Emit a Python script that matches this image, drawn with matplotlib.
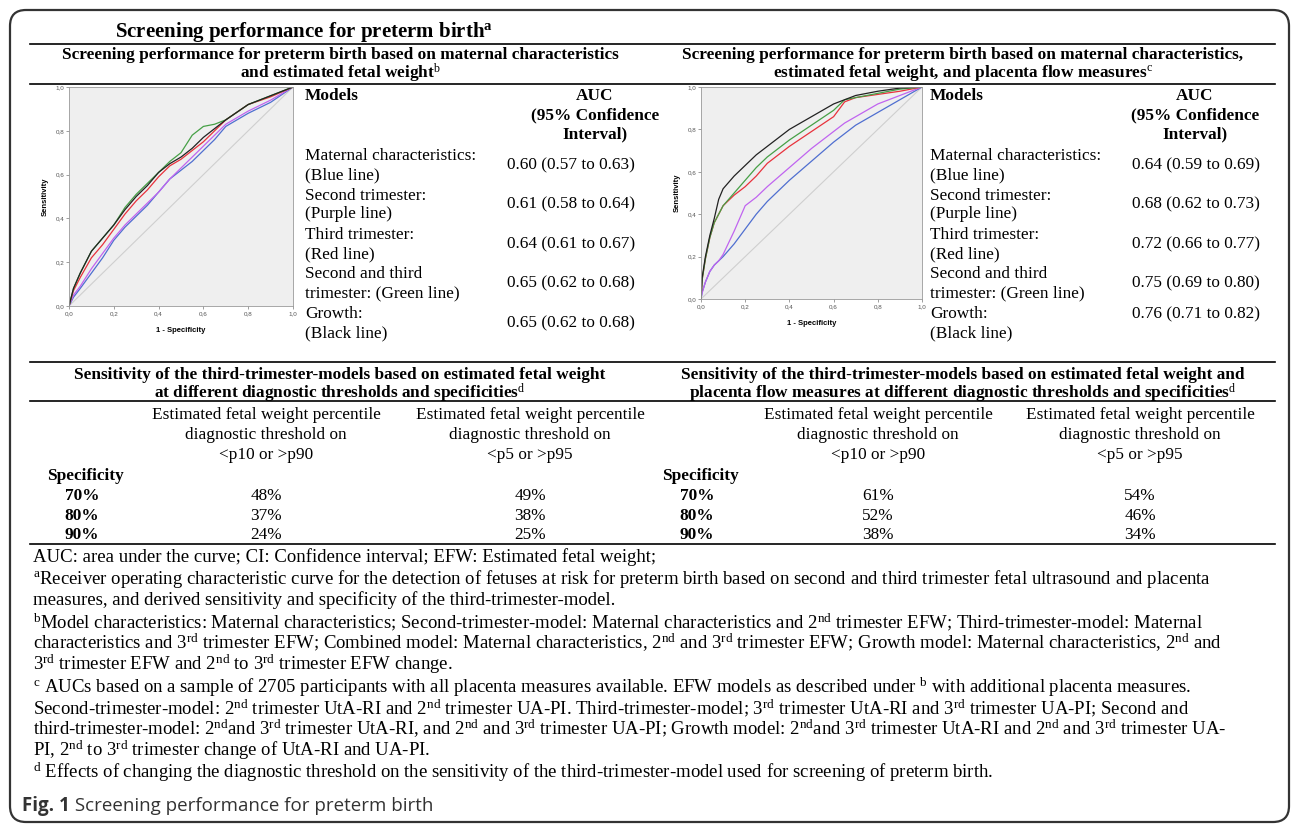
import matplotlib.pyplot as plt
from matplotlib.patches import FancyBboxPatch

plt.rcParams['font.family'] = 'Liberation Serif'
plt.rcParams['mathtext.fontset'] = 'custom'
plt.rcParams['mathtext.rm'] = 'Liberation Serif'
plt.rcParams['mathtext.it'] = 'Liberation Serif:italic'
plt.rcParams['mathtext.bf'] = 'Liberation Serif:bold'

# ROC curves: 1 - specificity grid and sensitivity per model
fpr_efw = [0, .02, .05, .1, .15, .2, .25, .3, .35, .4, .45, .5, .55, .6, .65, .7, .8, .9, 1]
sens_efw_blue = [0, .04, .08, .15, .22, .30, .36, .41, .46, .52, .58, .62, .66, .71, .76, .82, .88, .93, 1]
sens_efw_purple = [0, .05, .09, .17, .24, .31, .37, .42, .47, .52, .58, .63, .68, .73, .78, .83, .89, .94, 1]
sens_efw_red = [0, .07, .13, .22, .28, .35, .42, .48, .53, .59, .64, .67, .71, .75, .80, .85, .92, .955, 1]
sens_efw_green = [0, .08, .15, .25, .31, .37, .45, .51, .56, .61, .66, .70, .78, .82, .83, .85, .92, .96, 1]
sens_efw_black = [0, .08, .15, .25, .31, .37, .44, .50, .55, .61, .65, .68, .72, .77, .81, .85, .92, .96, 1]

fpr_plac = [0, .005, .02, .04, .06, .08, .1, .15, .2, .25, .3, .4, .5, .6, .65, .7, .8, .9, 1]
sens_plac_blue = [0, .03, .08, .13, .16, .18, .20, .26, .33, .40, .46, .56, .65, .74, .78, .82, .88, .94, 1]
sens_plac_purple = [0, .03, .08, .13, .16, .18, .21, .32, .44, .48, .53, .62, .71, .79, .83, .86, .92, .96, 1]
sens_plac_red = [0, .09, .19, .29, .36, .40, .44, .49, .53, .58, .64, .72, .79, .86, .93, .95, .965, .98, 1]
sens_plac_green = [0, .09, .19, .29, .36, .40, .44, .50, .56, .62, .67, .75, .82, .89, .94, .95, .97, .99, 1]
sens_plac_black = [0, .10, .20, .30, .38, .47, .52, .58, .63, .68, .72, .80, .86, .92, .94, .96, .98, .995, 1]

# table contents
models = [("Maternal characteristics:", "(Blue line)"),
          ("Second trimester:", "(Purple line)"),
          ("Third trimester:", "(Red line)"),
          ("Second and third", "trimester: (Green line)"),
          ("Growth:", "(Black line)")]
auc_efw = ["0.60 (0.57 to 0.63)", "0.61 (0.58 to 0.64)", "0.64 (0.61 to 0.67)",
           "0.65 (0.62 to 0.68)", "0.65 (0.62 to 0.68)"]
auc_plac = ["0.64 (0.59 to 0.69)", "0.68 (0.62 to 0.73)", "0.72 (0.66 to 0.77)",
            "0.75 (0.69 to 0.80)", "0.76 (0.71 to 0.82)"]
specificity = ["70%", "80%", "90%"]
efw_p10 = ["48%", "37%", "24%"]
efw_p5 = ["49%", "38%", "25%"]
plac_p10 = ["61%", "52%", "38%"]
plac_p5 = ["54%", "46%", "34%"]

colors = ['#4f6fd0', '#c064f0', '#e8323c', '#46a046', '#222222']

fig = plt.figure(figsize=(12.92, 8.27), dpi=100)
bg = fig.add_axes([0, 0, 1, 1])
bg.set_xlim(0, 1292)
bg.set_ylim(827, 0)
bg.axis('off')

bg.add_patch(FancyBboxPatch((10, 10), 1279, 812, boxstyle="round,pad=0,rounding_size=16",
                            fill=False, ec='#333333', lw=1.6))

def txt(x, y, s, size=12.4, **kw):
    kw.setdefault('va', 'center')
    bg.text(x, y, s, fontsize=size, color='black', **kw)

def hline(y, x0=30, x1=1275):
    bg.plot([x0, x1], [y, y], color='black', lw=1.2)

# headings
txt(115, 32, r"Screening performance for preterm birth$^{\mathbf{a}}$", size=15, fontweight='bold')
hline(44)
txt(340, 55, "Screening performance for preterm birth based on maternal characteristics",
    fontweight='bold', ha='center')
txt(340, 73, r"and estimated fetal weight$^{\mathrm{b}}$", fontweight='bold', ha='center')
txt(963, 55, "Screening performance for preterm birth based on maternal characteristics,",
    fontweight='bold', ha='center')
txt(963, 73, r"estimated fetal weight, and placenta flow measures$^{\mathrm{c}}$",
    fontweight='bold', ha='center')
hline(84)

# AUC tables
for x_mod, x_auc, x_val, aucs, growth_top in [(305, 595, 507, auc_efw, False),
                                              (930, 1195, 1132, auc_plac, True)]:
    txt(x_mod, 96, "Models", fontweight='bold')
    txt(x_auc, 96, "AUC", fontweight='bold', ha='center')
    txt(x_auc, 115, "(95% Confidence", fontweight='bold', ha='center')
    txt(x_auc, 134, "Interval)", fontweight='bold', ha='center')
    for i, ((l1, l2), a) in enumerate(zip(models, aucs)):
        y1 = 156 + i * 39.5
        txt(x_mod, y1, l1)
        txt(x_mod, y1 + 19, l2)
        yv = y1 if (growth_top and i == 4) else y1 + 9
        txt(x_val, yv, a)

# ROC panels
def roc(rect, fpr, curves):
    x0, y0, x1, y1 = rect
    ax = fig.add_axes([x0 / 1292, 1 - y1 / 827, (x1 - x0) / 1292, (y1 - y0) / 827])
    ax.set_facecolor('#efefef')
    ax.plot([0, 1], [0, 1], color='#cfcfcf', lw=0.8)
    for s, c in zip(curves, colors):
        ax.plot(fpr, s, color=c, lw=0.9)
    ax.set_xlim(0, 1)
    ax.set_ylim(0, 1)
    ticks = [0, .2, .4, .6, .8, 1]
    labels = [f"{t:.1f}".replace('.', ',') for t in ticks]
    ax.set_xticks(ticks, labels)
    ax.set_yticks(ticks, labels)
    ax.tick_params(length=2, width=0.5, color='#777777', labelsize=4.5,
                   labelcolor='#555555', pad=1.5)
    for lab in ax.get_xticklabels() + ax.get_yticklabels():
        lab.set_family('Liberation Sans')
    for sp in ax.spines.values():
        sp.set_color('#999999')
        sp.set_linewidth(0.6)
    ax.set_xlabel("1 - Specificity", family='Liberation Sans', fontweight='bold',
                  fontsize=5.5, labelpad=8)
    ax.set_ylabel("Sensitivity", family='Liberation Sans', fontweight='bold',
                  fontsize=5.5, labelpad=5)

roc((69, 87, 293, 306), fpr_efw,
    [sens_efw_blue, sens_efw_purple, sens_efw_red, sens_efw_green, sens_efw_black])
roc((701, 87, 922, 299), fpr_plac,
    [sens_plac_blue, sens_plac_purple, sens_plac_red, sens_plac_green, sens_plac_black])

hline(362)

# sensitivity tables
txt(340, 375, "Sensitivity of the third-trimester-models based on estimated fetal weight",
    fontweight='bold', ha='center')
txt(340, 393, r"at different diagnostic thresholds and specificities$^{\mathrm{d}}$",
    fontweight='bold', ha='center')
txt(963, 375, "Sensitivity of the third-trimester-models based on estimated fetal weight and",
    fontweight='bold', ha='center')
txt(963, 393, r"placenta flow measures at different diagnostic thresholds and specificities$^{\mathrm{d}}$",
    fontweight='bold', ha='center')
hline(401)

for x_spec, x_lab, x_c1, x_c2, c1, c2 in [(47, 82, 266, 530, efw_p10, efw_p5),
                                          (662, 697, 878, 1140, plac_p10, plac_p5)]:
    for xc, thr in [(x_c1, "<p10 or >p90"), (x_c2, "<p5 or >p95")]:
        txt(xc, 415, "Estimated fetal weight percentile", ha='center')
        txt(xc, 435, "diagnostic threshold on", ha='center')
        txt(xc, 455, thr, ha='center')
    txt(x_spec, 476, "Specificity", fontweight='bold')
    for i, (sp, v1, v2) in enumerate(zip(specificity, c1, c2)):
        y = 496 + i * 19.5
        txt(x_lab, y, sp, fontweight='bold', ha='center')
        txt(x_c1, y, v1, ha='center')
        txt(x_c2, y, v2, ha='center')
hline(544)

# footnotes
notes = [
    (557, "AUC: area under the curve; CI: Confidence interval; EFW: Estimated fetal weight;"),
    (579, r"$^{\mathrm{a}}$Receiver operating characteristic curve for the detection of fetuses at risk for preterm birth based on second and third trimester fetal ultrasound and placenta"),
    (600, "measures, and derived sensitivity and specificity of the third-trimester-model."),
    (622, r"$^{\mathrm{b}}$Model characteristics: Maternal characteristics; Second-trimester-model: Maternal characteristics and 2$^{\mathrm{nd}}$ trimester EFW; Third-trimester-model: Maternal"),
    (643, r"characteristics and 3$^{\mathrm{rd}}$ trimester EFW; Combined model: Maternal characteristics, 2$^{\mathrm{nd}}$ and 3$^{\mathrm{rd}}$ trimester EFW; Growth model: Maternal characteristics, 2$^{\mathrm{nd}}$ and"),
    (664, r"3$^{\mathrm{rd}}$ trimester EFW and 2$^{\mathrm{nd}}$ to 3$^{\mathrm{rd}}$ trimester EFW change."),
    (687, r"$^{\mathrm{c}}$ AUCs based on a sample of 2705 participants with all placenta measures available. EFW models as described under $^{\mathrm{b}}$ with additional placenta measures."),
    (708, r"Second-trimester-model: 2$^{\mathrm{nd}}$ trimester UtA-RI and 2$^{\mathrm{nd}}$ trimester UA-PI. Third-trimester-model; 3$^{\mathrm{rd}}$ trimester UtA-RI and 3$^{\mathrm{rd}}$ trimester UA-PI; Second and"),
    (729, r"third-trimester-model: 2$^{\mathrm{nd}}$and 3$^{\mathrm{rd}}$ trimester UtA-RI, and 2$^{\mathrm{nd}}$ and 3$^{\mathrm{rd}}$ trimester UA-PI; Growth model: 2$^{\mathrm{nd}}$and 3$^{\mathrm{rd}}$ trimester UtA-RI and 2$^{\mathrm{nd}}$ and 3$^{\mathrm{rd}}$ trimester UA-"),
    (750, r"PI, 2$^{\mathrm{nd}}$ to 3$^{\mathrm{rd}}$ trimester change of UtA-RI and UA-PI."),
    (772, r"$^{\mathrm{d}}$ Effects of changing the diagnostic threshold on the sensitivity of the third-trimester-model used for screening of preterm birth."),
]
for y, s in notes:
    txt(33, y, s, size=13.5)

t1 = bg.text(22, 806, "Fig. 1", family='Open Sans', fontweight='bold', fontsize=13.5,
             color='#333333', va='center')
bg.annotate(" Screening performance for preterm birth", xy=(1, 0.5), xycoords=t1,
            va='center', family='Open Sans', fontsize=13.5, color='#333333')

fig.savefig('out.png', dpi=100)
